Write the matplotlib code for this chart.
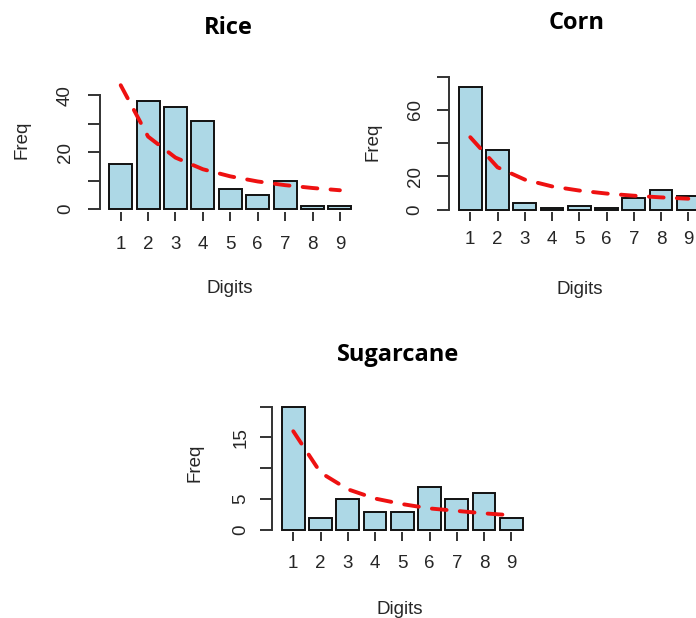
"""Benford first-digit check for three crops (rice, corn, sugarcane)."""
import matplotlib
matplotlib.use("Agg")
import matplotlib.pyplot as plt

W, H = 696, 618

digits = [1, 2, 3, 4, 5, 6, 7, 8, 9]

rice_freq = [16, 38, 36, 31, 7, 5, 10, 1, 1]
rice_benford = [43.6, 25.5, 18.1, 14.0, 11.5, 9.7, 8.4, 7.4, 6.6]

corn_freq = [74, 36, 4, 1, 2, 1, 7, 12, 8]
corn_benford = [43.6, 25.5, 18.1, 14.0, 11.5, 9.7, 8.4, 7.4, 6.6]

sugar_freq = [20, 2, 5, 3, 3, 7, 5, 6, 2]
sugar_benford = [16.0, 9.3, 6.6, 5.1, 4.2, 3.5, 3.1, 2.7, 2.4]

rice_yticks = [0, 10, 20, 30, 40]
rice_ylabels = ["0", "", "20", "", "40"]
corn_yticks = [0, 20, 40, 60, 80]
corn_ylabels = ["0", "20", "", "60", ""]
sugar_yticks = [0, 5, 10, 15, 20]
sugar_ylabels = ["0", "5", "", "15", ""]

AXIS_FONT = "Liberation Sans"
TITLE_FONT = "Open Sans"
TXT = "#262626"
FS = 13.5


def px_axes(fig, left, top, right, bottom):
    return fig.add_axes([left / W, 1 - bottom / H, (right - left) / W, (bottom - top) / H])


def ftext(fig, x, y, s, **kw):
    fig.text(x / W, 1 - y / H, s, ha="center", va="center", **kw)


def panel(fig, rect, ylim, freq, benford, yticks, ylabels, xpad, ypad):
    ax = px_axes(fig, *rect)
    ax.bar(digits, freq, width=5 / 6, color="#add8e6", edgecolor="#111111", linewidth=1.4, zorder=2)
    ax.plot(digits, benford, color="#ee1111", linewidth=2.8, linestyle=(0, (3.8, 3.4)),
            dash_capstyle="round", zorder=3, clip_on=False)
    ax.set_xlim(0.23, 9.77)
    ax.set_ylim(*ylim)
    for s in ("top", "right", "bottom"):
        ax.spines[s].set_visible(False)
    ax.spines["left"].set_bounds(yticks[0], yticks[-1])
    ax.spines["left"].set_color("#333333")
    ax.spines["left"].set_linewidth(1.4)
    ax.set_xticks(digits)
    ax.set_xticklabels([str(d) for d in digits])
    ax.set_yticks(yticks)
    ax.set_yticklabels(ylabels)
    ax.tick_params(axis="x", length=6.5, width=1.4, color="#333333", pad=xpad,
                   labelsize=FS, labelcolor=TXT)
    ax.tick_params(axis="y", length=8.5, width=1.4, color="#333333", pad=ypad,
                   labelsize=FS, labelcolor=TXT, labelrotation=90)
    for lab in ax.get_yticklabels():
        lab.set_verticalalignment("center")
        lab.set_family(AXIS_FONT)
    for lab in ax.get_xticklabels():
        lab.set_family(AXIS_FONT)
    ax.patch.set_alpha(0)
    return ax


fig = plt.figure(figsize=(W / 100, H / 100), dpi=100)

panel(fig, (99.6, 78.4, 361.0, 211.5), (-0.88, 46), rice_freq, rice_benford,
      rice_yticks, rice_ylabels, xpad=11, ypad=10)
panel(fig, (449.3, 68.4, 709.3, 212.0), (-1.4, 85), corn_freq, corn_benford,
      corn_yticks, corn_ylabels, xpad=7, ypad=10)
panel(fig, (272.3, 397.3, 532.3, 532.0), (-0.32, 21.5), sugar_freq, sugar_benford,
      sugar_yticks, sugar_ylabels, xpad=10, ypad=8)

title_kw = dict(family=TITLE_FONT, fontweight="bold", fontsize=17, color="black")
ftext(fig, 228, 28, "Rice", **title_kw)
ftext(fig, 577, 23, "Corn", **title_kw)
ftext(fig, 398, 355, "Sugarcane", **title_kw)

lab_kw = dict(family=AXIS_FONT, fontsize=FS, color=TXT)
ftext(fig, 230, 289, "Digits", **lab_kw)
ftext(fig, 580, 290, "Digits", **lab_kw)
ftext(fig, 400, 609, "Digits", **lab_kw)
ftext(fig, 22, 140, "Freq", rotation=90, **lab_kw)
ftext(fig, 373, 142, "Freq", rotation=90, **lab_kw)
ftext(fig, 195, 463, "Freq", rotation=90, **lab_kw)

fig.savefig("out.png", dpi=100)
